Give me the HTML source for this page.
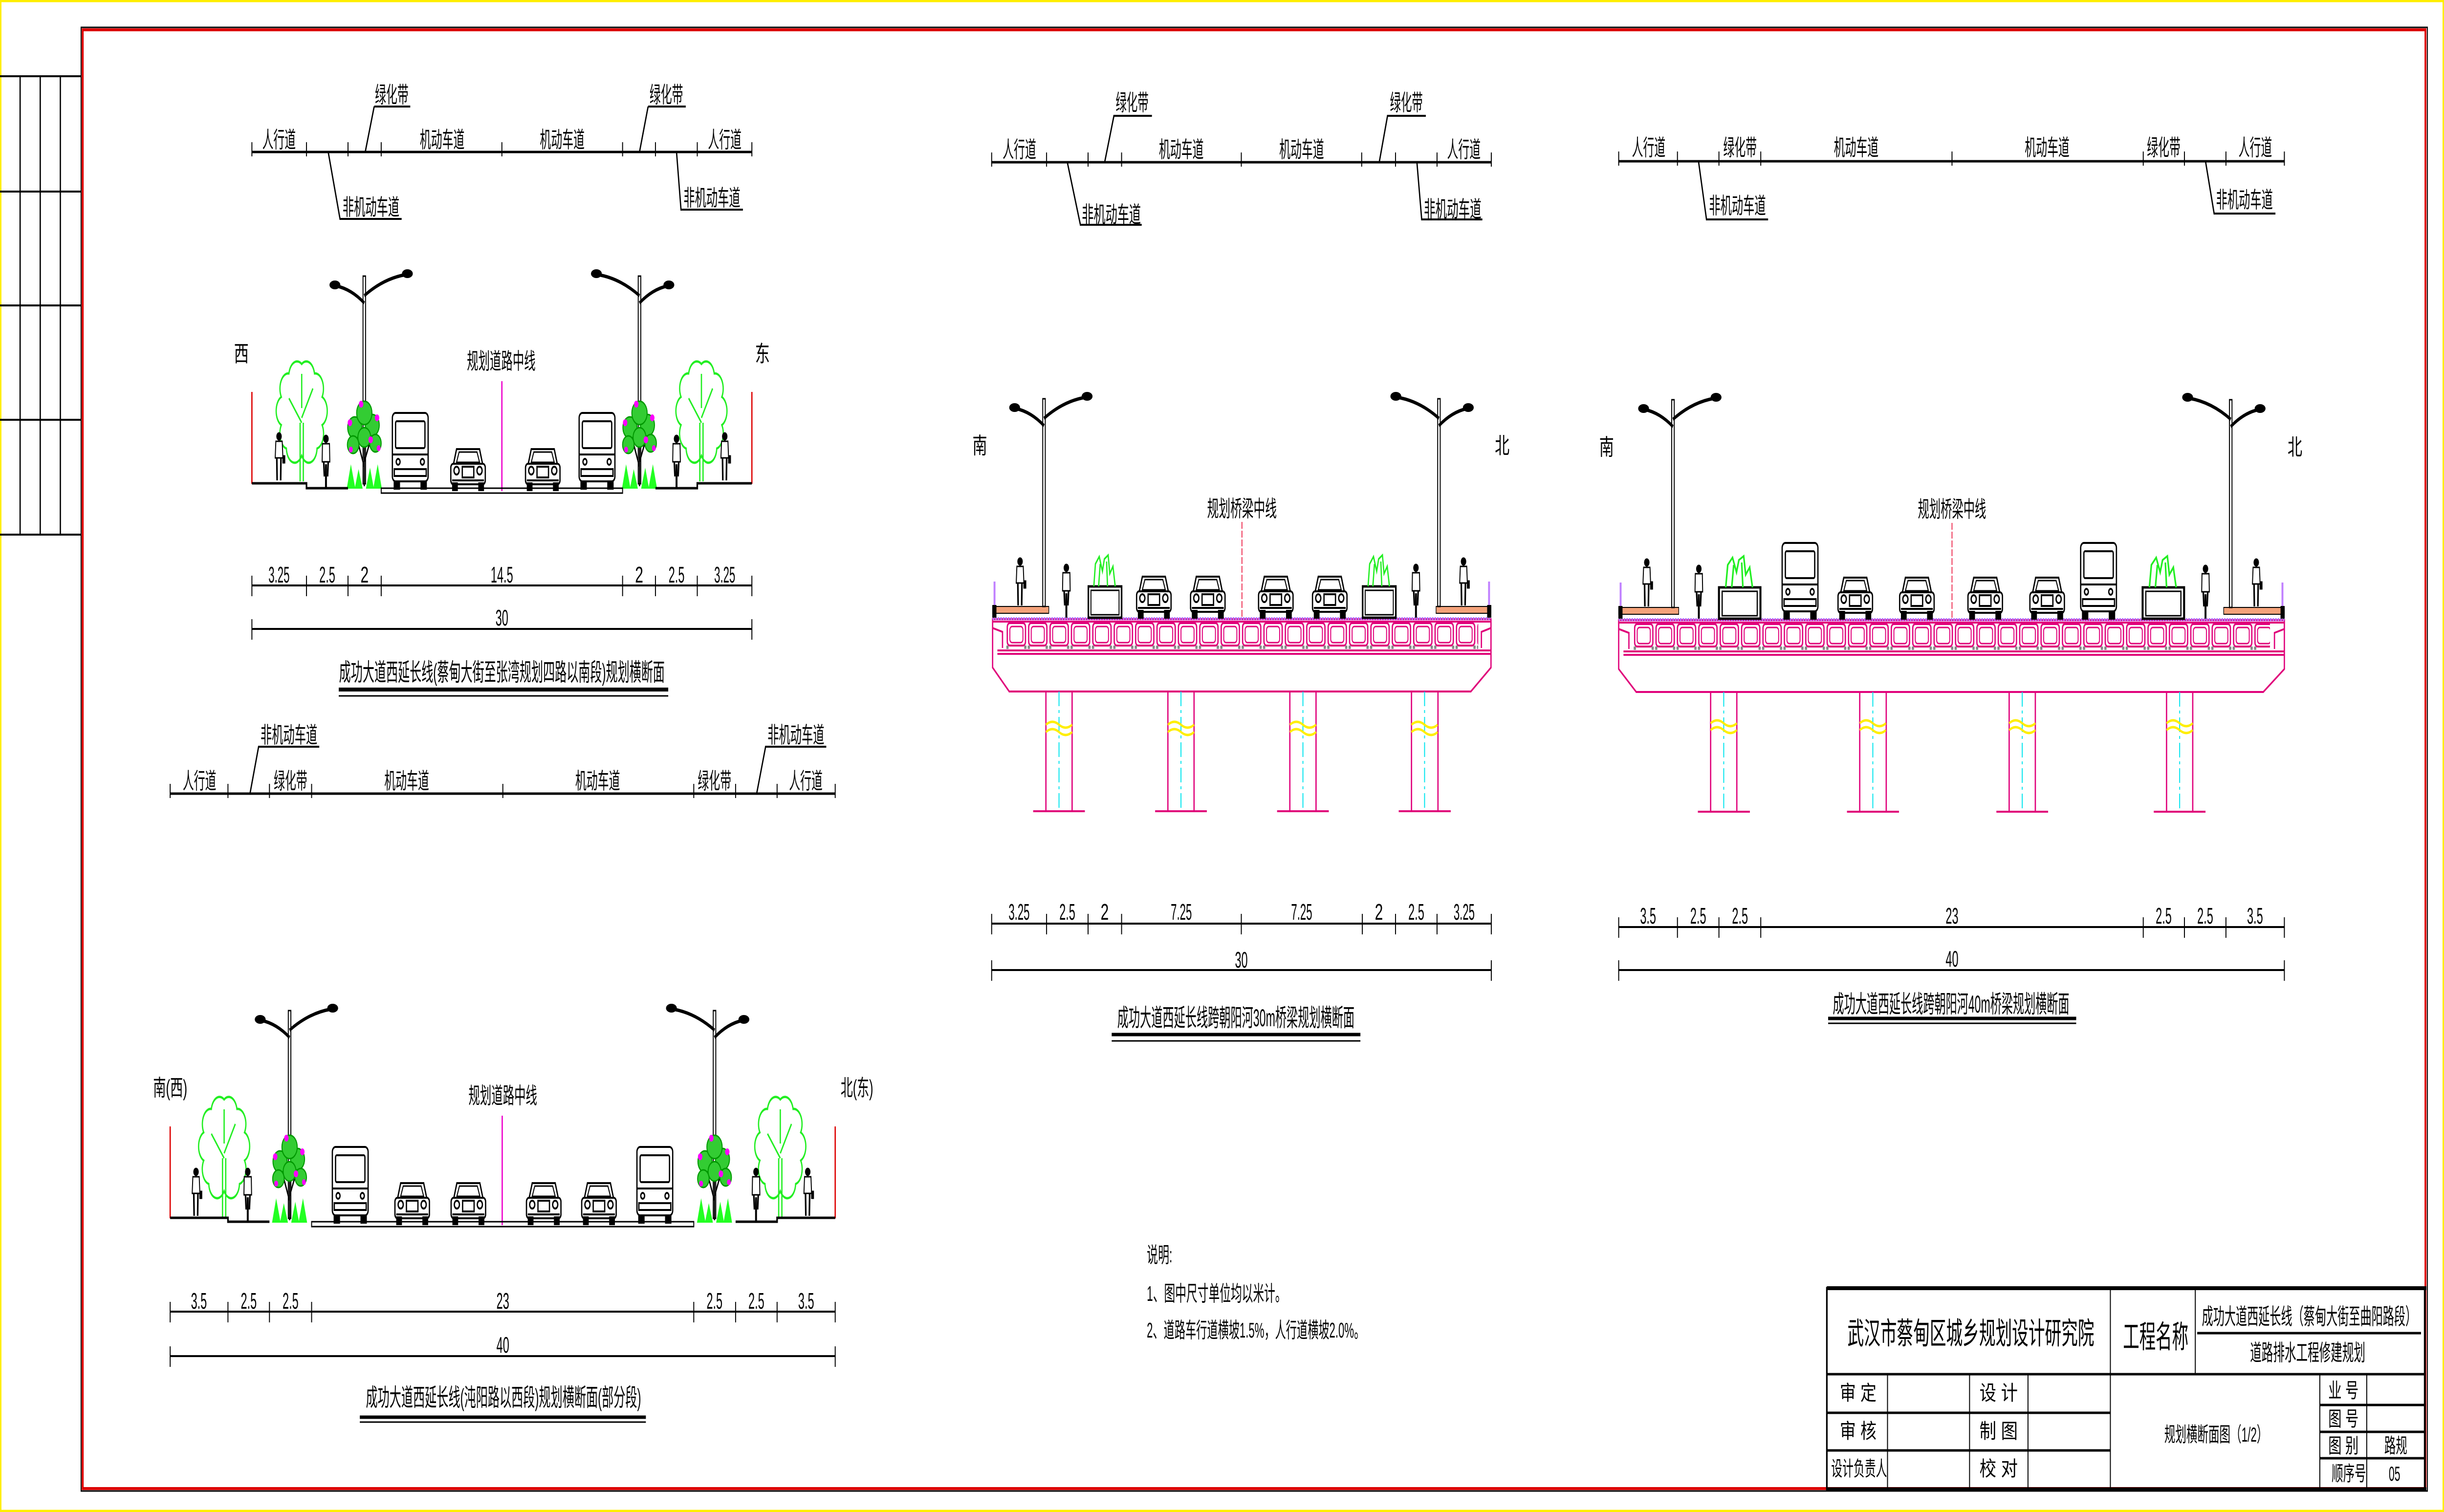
<!DOCTYPE html>
<html><head><meta charset="utf-8"><style>
html,body{margin:0;padding:0;background:#fff;overflow:hidden;width:100%;height:100%}
svg{display:block;position:fixed;left:0;top:0;width:100vw;height:100vh}
text{font-family:"Liberation Sans","Noto Sans CJK SC",sans-serif;fill:#000}
</style></head><body>
<svg xmlns="http://www.w3.org/2000/svg" viewBox="0 0 7655 3094" preserveAspectRatio="none">
<defs>
<pattern id="cells3" patternUnits="userSpaceOnUse" x="3150" y="1273" width="67" height="56">
<rect x="5" y="2" width="57" height="46" rx="8" fill="none" stroke="#e0007a" stroke-width="4"/>
<rect x="13" y="9" width="41" height="33" rx="7" fill="none" stroke="#e0007a" stroke-width="3"/>
<rect x="2" y="48" width="7" height="7" fill="#888"/><rect x="58" y="48" width="7" height="7" fill="#888"/>
</pattern>
<pattern id="cells4" patternUnits="userSpaceOnUse" x="5115" y="1275" width="67" height="56">
<rect x="5" y="2" width="57" height="46" rx="8" fill="none" stroke="#e0007a" stroke-width="4"/>
<rect x="13" y="9" width="41" height="33" rx="7" fill="none" stroke="#e0007a" stroke-width="3"/>
<rect x="2" y="48" width="7" height="7" fill="#888"/><rect x="58" y="48" width="7" height="7" fill="#888"/>
</pattern>
<g id="car" fill="#fff" stroke="#000" stroke-width="4">
<path d="M-36,-84 H36 L46,-52 H-46 Z"/>
<path d="M-28,-78 H28 L36,-57 H-36 Z" fill="none" stroke-width="3"/>
<rect x="-54" y="-54" width="108" height="42" rx="8"/>
<circle cx="-36" cy="-40" r="8"/><circle cx="36" cy="-40" r="8"/>
<rect x="-18" y="-48" width="36" height="22" fill="none"/>
<line x1="-50" y1="-20" x2="50" y2="-20"/>
<rect x="-48" y="-14" width="14" height="14" fill="#000"/><rect x="34" y="-14" width="14" height="14" fill="#000"/>
</g>
<g id="bus" fill="#fff" stroke="#000" stroke-width="4">
<rect x="-56" y="-155" width="112" height="140" rx="10"/>
<rect x="-46" y="-138" width="92" height="55" rx="4"/>
<line x1="-56" y1="-70" x2="56" y2="-70"/>
<rect x="-50" y="-40" width="100" height="14"/>
<circle cx="-38" cy="-55" r="6"/><circle cx="38" cy="-55" r="6"/>
<rect x="-50" y="-15" width="16" height="15" fill="#000"/><rect x="34" y="-15" width="16" height="15" fill="#000"/>
</g>
<g id="ped" stroke="#000" stroke-width="3" fill="#fff">
<circle cx="0" cy="-92" r="7" fill="#000"/>
<path d="M-10,-82 H10 L12,-48 H-12 Z"/>
<path d="M-7,-48 L-6,-2 M6,-48 L5,-2" stroke-width="5"/>
<rect x="12" y="-52" width="6" height="14" fill="#000"/>
</g>
<g id="cyc" stroke="#000" stroke-width="3" fill="#fff">
<circle cx="0" cy="-102" r="7" fill="#000"/>
<path d="M-11,-92 H11 L12,-55 H-12 Z"/>
<path d="M-7,-55 L-5,-25 M7,-55 L5,-25" stroke-width="5"/>
<path d="M0,-50 V0" stroke-width="6"/>
</g>
<g id="tree" fill="none" stroke="#22ee22" stroke-width="4">
<path transform="scale(1,1.2)" d="M-48,-56 A26,26 0 0 1 -64,-96 A26,26 0 0 1 -64,-144 A26,26 0 0 1 -40,-184 A26,26 0 0 1 0,-200 A26,26 0 0 1 40,-184 A26,26 0 0 1 64,-144 A26,26 0 0 1 64,-96 A26,26 0 0 1 48,-56 A26,26 0 0 1 0,-44 A26,26 0 0 1 -48,-56 Z"/>
<path d="M-5,0 V-120 M5,0 V-120 M0,-120 L-40,-170 M0,-130 L35,-190 M0,-150 V-220"/>
</g>
<g id="flower">
<path d="M0,0 V-110 M0,-40 L-20,-90 M0,-50 L22,-100" stroke="#000" stroke-width="4" fill="none"/>
<g fill="#33cc33" stroke="#009900" stroke-width="3">
<circle cx="-30" cy="-120" r="22"/><circle cx="25" cy="-125" r="22"/><circle cx="0" cy="-150" r="24"/>
<circle cx="-35" cy="-85" r="18"/><circle cx="35" cy="-88" r="18"/><circle cx="0" cy="-100" r="20"/>
</g>
<g fill="#ff00ff"><circle cx="-45" cy="-130" r="7"/><circle cx="40" cy="-140" r="7"/><circle cx="-10" cy="-168" r="7"/><circle cx="20" cy="-95" r="7"/><circle cx="-42" cy="-75" r="6"/><circle cx="45" cy="-78" r="6"/></g>
<g fill="#22ff22"><polygon points="-55,5 -42,-45 -28,5"/><polygon points="-30,5 -18,-35 -5,5"/><polygon points="5,5 18,-38 30,5"/><polygon points="28,5 42,-45 55,5"/></g>
</g>
<g id="planter">
<rect x="-52" y="-64" width="104" height="64" fill="#fff" stroke="#000" stroke-width="5"/>
<rect x="-44" y="-56" width="88" height="50" fill="none" stroke="#000" stroke-width="3"/>
<path d="M-35,-64 L-30,-110 L-18,-125 L-8,-95 L-2,-120 L10,-128 L15,-90 L25,-105 L32,-64 M-20,-64 L-15,-110 M8,-64 L5,-115" fill="none" stroke="#22ee22" stroke-width="4"/>
</g>
<g id="lamp">
<rect x="-4" y="-425" width="8" height="425" fill="#fff" stroke="#000" stroke-width="3"/>
<path d="M0,-385 Q60,-420 130,-428" stroke="#000" stroke-width="7" fill="none"/>
<path d="M0,-370 Q-40,-398 -88,-405" stroke="#000" stroke-width="7" fill="none"/>
<ellipse cx="135" cy="-430" rx="17" ry="9" fill="#000"/><ellipse cx="-92" cy="-407" rx="17" ry="9" fill="#000"/>
</g>
</defs>

<rect x="2" y="2" width="7651" height="3090" fill="none" stroke="#ffee00" stroke-width="5"/>
<rect x="254" y="56" width="7349" height="2995" fill="none" stroke="#000" stroke-width="3"/>
<rect x="259" y="61" width="7338" height="2985" fill="none" stroke="#dd0000" stroke-width="6"/>
<g stroke="#000" stroke-width="4">
<line x1="0" y1="156" x2="255" y2="156"/><line x1="0" y1="392" x2="255" y2="392"/><line x1="0" y1="625" x2="255" y2="625"/><line x1="0" y1="859" x2="255" y2="859"/><line x1="0" y1="1094" x2="255" y2="1094"/>
<line x1="63" y1="156" x2="63" y2="1094"/><line x1="126" y1="156" x2="126" y2="1094"/><line x1="189" y1="156" x2="189" y2="1094"/>
</g>

<!-- SECTION 1 -->
<g stroke="#000" stroke-width="5" fill="none">
<line x1="789" y1="311" x2="2355" y2="311"/>
<path d="M789,291 V320 M960,291 V320 M1090,291 V320 M1194,291 V320 M1572,291 V320 M1950,291 V320 M2053,291 V320 M2184,291 V320 M2355,291 V320" stroke-width="3"/>
<path d="M1172,218 L1144,311 M1172,218 H1285 M2030,218 L2003,311 M2030,218 H2148 M1028,311 L1065,448 H1258 M2119,311 L2133,429 H2327" stroke-width="4"/>
</g>
<g font-size="46">
<text x="874" y="302" text-anchor="middle" textLength="105" lengthAdjust="spacingAndGlyphs">人行道</text>
<text x="1385" y="302" text-anchor="middle" textLength="140" lengthAdjust="spacingAndGlyphs">机动车道</text>
<text x="1761" y="302" text-anchor="middle" textLength="140" lengthAdjust="spacingAndGlyphs">机动车道</text>
<text x="2270" y="302" text-anchor="middle" textLength="105" lengthAdjust="spacingAndGlyphs">人行道</text>
<text x="1227" y="210" text-anchor="middle" textLength="105" lengthAdjust="spacingAndGlyphs">绿化带</text>
<text x="2087" y="210" text-anchor="middle" textLength="105" lengthAdjust="spacingAndGlyphs">绿化带</text>
<text x="1162" y="440" text-anchor="middle" textLength="178" lengthAdjust="spacingAndGlyphs">非机动车道</text>
<text x="2230" y="421" text-anchor="middle" textLength="178" lengthAdjust="spacingAndGlyphs">非机动车道</text>
<text x="756" y="740" text-anchor="middle">西</text>
<text x="2388" y="740" text-anchor="middle">东</text>
<text x="1570" y="755" text-anchor="middle" textLength="215" lengthAdjust="spacingAndGlyphs">规划道路中线</text>
</g>
<line x1="1572" y1="780" x2="1572" y2="1005" stroke="#ee00cc" stroke-width="4"/>
<g stroke="#dd0000" stroke-width="4"><line x1="789" y1="802" x2="789" y2="990"/><line x1="2355" y1="802" x2="2355" y2="990"/></g>
<use href="#tree" transform="translate(945,985)"/><use href="#tree" transform="translate(2197,985)"/>
<use href="#lamp" transform="translate(1141,990)"/><use href="#lamp" transform="translate(2003,990) scale(-1,1)"/>
<use href="#flower" transform="translate(1141,995)"/><use href="#flower" transform="translate(2003,995)"/>
<use href="#ped" transform="translate(874,985)"/><use href="#cyc" transform="translate(1021,1000)"/>
<use href="#cyc" transform="translate(2119,1000)"/><use href="#ped" transform="translate(2270,985)"/>
<use href="#bus" transform="translate(1285,1000)"/><use href="#car" transform="translate(1466,1003)"/>
<use href="#car" transform="translate(1700,1003)"/><use href="#bus" transform="translate(1870,1000)"/>
<g stroke="#000" stroke-width="5" fill="none">
<path d="M789,989 H960 V999 H1090 M2355,989 H2184 V999 H2053"/>
<rect x="1194" y="999" width="756" height="10" stroke-width="3"/>
</g>
<g stroke="#000" stroke-width="4" fill="none">
<line x1="789" y1="1198" x2="2355" y2="1198"/>
<path d="M789,1178 V1220 M960,1178 V1220 M1090,1178 V1220 M1194,1178 V1220 M1950,1178 V1220 M2053,1178 V1220 M2184,1178 V1220 M2355,1178 V1220" stroke-width="3"/>
<line x1="789" y1="1287" x2="2355" y2="1287"/>
<path d="M789,1267 V1309 M2355,1267 V1309" stroke-width="3"/>
</g>
<g font-size="46" text-anchor="middle">
<text x="874" y="1192" textLength="66" lengthAdjust="spacingAndGlyphs">3.25</text>
<text x="1025" y="1192" textLength="50" lengthAdjust="spacingAndGlyphs">2.5</text>
<text x="1142" y="1192">2</text>
<text x="1572" y="1192" textLength="70" lengthAdjust="spacingAndGlyphs">14.5</text>
<text x="2002" y="1192">2</text>
<text x="2119" y="1192" textLength="50" lengthAdjust="spacingAndGlyphs">2.5</text>
<text x="2270" y="1192" textLength="66" lengthAdjust="spacingAndGlyphs">3.25</text>
<text x="1572" y="1280" textLength="40" lengthAdjust="spacingAndGlyphs">30</text>
</g>
<text x="1572" y="1393" font-size="50" text-anchor="middle" textLength="1020" lengthAdjust="spacingAndGlyphs">成功大道西延长线(蔡甸大街至张湾规划四路以南段)规划横断面</text>
<line x1="1061" y1="1411" x2="2093" y2="1411" stroke="#000" stroke-width="8"/>
<line x1="1061" y1="1424" x2="2093" y2="1424" stroke="#000" stroke-width="3"/>

<!-- SECTION 2 -->
<g stroke="#000" stroke-width="5" fill="none">
<line x1="533" y1="1624" x2="2616" y2="1624"/>
<path d="M533,1604 V1633 M714,1604 V1633 M844,1604 V1633 M976,1604 V1633 M1575,1604 V1633 M2173,1604 V1633 M2304,1604 V1633 M2434,1604 V1633 M2616,1604 V1633" stroke-width="3"/>
<path d="M783,1624 L810,1528 H1000 M2370,1624 L2398,1528 H2588" stroke-width="4"/>
</g>
<g font-size="46" text-anchor="middle">
<text x="625" y="1614" textLength="105" lengthAdjust="spacingAndGlyphs">人行道</text>
<text x="910" y="1614" textLength="105" lengthAdjust="spacingAndGlyphs">绿化带</text>
<text x="1274" y="1614" textLength="140" lengthAdjust="spacingAndGlyphs">机动车道</text>
<text x="1872" y="1614" textLength="140" lengthAdjust="spacingAndGlyphs">机动车道</text>
<text x="2238" y="1614" textLength="105" lengthAdjust="spacingAndGlyphs">绿化带</text>
<text x="2524" y="1614" textLength="105" lengthAdjust="spacingAndGlyphs">人行道</text>
<text x="905" y="1520" textLength="178" lengthAdjust="spacingAndGlyphs">非机动车道</text>
<text x="2493" y="1520" textLength="178" lengthAdjust="spacingAndGlyphs">非机动车道</text>
<text x="533" y="2242" textLength="107" lengthAdjust="spacingAndGlyphs">南(西)</text>
<text x="2684" y="2242" textLength="102" lengthAdjust="spacingAndGlyphs">北(东)</text>
<text x="1575" y="2258" textLength="215" lengthAdjust="spacingAndGlyphs">规划道路中线</text>
</g>
<line x1="1573" y1="2283" x2="1573" y2="2507" stroke="#ee00cc" stroke-width="4"/>
<g stroke="#dd0000" stroke-width="4"><line x1="533" y1="2305" x2="533" y2="2493"/><line x1="2616" y1="2305" x2="2616" y2="2493"/></g>
<use href="#tree" transform="translate(702,2490)"/><use href="#tree" transform="translate(2444,2490)"/>
<use href="#lamp" transform="translate(907,2493)"/><use href="#lamp" transform="translate(2238,2493) scale(-1,1)"/>
<use href="#flower" transform="translate(907,2497)"/><use href="#flower" transform="translate(2238,2497)"/>
<use href="#ped" transform="translate(614,2490)"/><use href="#cyc" transform="translate(776,2500)"/>
<use href="#cyc" transform="translate(2368,2500)"/><use href="#ped" transform="translate(2530,2490)"/>
<use href="#bus" transform="translate(1097,2502)"/><use href="#car" transform="translate(1291,2505)"/>
<use href="#car" transform="translate(1467,2505)"/><use href="#car" transform="translate(1703,2505)"/>
<use href="#car" transform="translate(1876,2505)"/><use href="#bus" transform="translate(2051,2502)"/>
<g stroke="#000" stroke-width="5" fill="none">
<path d="M533,2492 H714 V2500 H844 M2616,2492 H2434 V2500 H2304"/>
<rect x="976" y="2500" width="1197" height="10" stroke-width="3"/>
</g>
<g stroke="#000" stroke-width="4" fill="none">
<line x1="533" y1="2684" x2="2616" y2="2684"/>
<path d="M533,2664 V2706 M714,2664 V2706 M844,2664 V2706 M976,2664 V2706 M2173,2664 V2706 M2304,2664 V2706 M2434,2664 V2706 M2616,2664 V2706" stroke-width="3"/>
<line x1="533" y1="2775" x2="2616" y2="2775"/>
<path d="M533,2755 V2797 M2616,2755 V2797" stroke-width="3"/>
</g>
<g font-size="46" text-anchor="middle">
<text x="623" y="2678" textLength="50" lengthAdjust="spacingAndGlyphs">3.5</text>
<text x="779" y="2678" textLength="50" lengthAdjust="spacingAndGlyphs">2.5</text>
<text x="910" y="2678" textLength="50" lengthAdjust="spacingAndGlyphs">2.5</text>
<text x="1575" y="2678" textLength="40" lengthAdjust="spacingAndGlyphs">23</text>
<text x="2238" y="2678" textLength="50" lengthAdjust="spacingAndGlyphs">2.5</text>
<text x="2369" y="2678" textLength="50" lengthAdjust="spacingAndGlyphs">2.5</text>
<text x="2525" y="2678" textLength="50" lengthAdjust="spacingAndGlyphs">3.5</text>
<text x="1575" y="2768" textLength="40" lengthAdjust="spacingAndGlyphs">40</text>
</g>
<text x="1577" y="2877" font-size="50" text-anchor="middle" textLength="862" lengthAdjust="spacingAndGlyphs">成功大道西延长线(沌阳路以西段)规划横断面(部分段)</text>
<line x1="1127" y1="2900" x2="2023" y2="2900" stroke="#000" stroke-width="7"/>
<line x1="1127" y1="2910" x2="2023" y2="2910" stroke="#000" stroke-width="3"/>

<!-- SECTION 3 -->
<g stroke="#000" stroke-width="5" fill="none">
<line x1="3106" y1="332" x2="4671" y2="332"/>
<path d="M3106,312 V341 M3278,312 V341 M3408,312 V341 M3513,312 V341 M3888,312 V341 M4265,312 V341 M4371,312 V341 M4501,312 V341 M4671,312 V341" stroke-width="3"/>
<path d="M3460,332 L3489,237 H3608 M4320,332 L4346,237 H4466 M3343,332 L3384,460 H3576 M4438,332 L4453,449 H4643" stroke-width="4"/>
</g>
<g font-size="46" text-anchor="middle">
<text x="3193" y="322" textLength="105" lengthAdjust="spacingAndGlyphs">人行道</text>
<text x="3700" y="322" textLength="140" lengthAdjust="spacingAndGlyphs">机动车道</text>
<text x="4077" y="322" textLength="140" lengthAdjust="spacingAndGlyphs">机动车道</text>
<text x="4585" y="322" textLength="105" lengthAdjust="spacingAndGlyphs">人行道</text>
<text x="3546" y="226" textLength="103" lengthAdjust="spacingAndGlyphs">绿化带</text>
<text x="4405" y="226" textLength="103" lengthAdjust="spacingAndGlyphs">绿化带</text>
<text x="3481" y="455" textLength="185" lengthAdjust="spacingAndGlyphs">非机动车道</text>
<text x="4550" y="444" textLength="180" lengthAdjust="spacingAndGlyphs">非机动车道</text>
<text x="3069" y="928">南</text>
<text x="4705" y="928">北</text>
<text x="3890" y="1057" textLength="218" lengthAdjust="spacingAndGlyphs">规划桥梁中线</text>
</g>
<line x1="3890" y1="1068" x2="3890" y2="1262" stroke="#ee3355" stroke-width="3" stroke-dasharray="14 4"/>
<rect x="3150" y="1273" width="1480" height="56" fill="url(#cells3)"/>
<g stroke="#e0007a" stroke-width="4" fill="none">
<path d="M3109,1267 V1366 L3161,1415 H4607 L4670,1366 V1267 Z"/>
<line x1="3109" y1="1272" x2="4670" y2="1272"/>
<line x1="3124" y1="1331" x2="4670" y2="1331"/>
<line x1="3124" y1="1338" x2="4670" y2="1338"/>
<path d="M3109,1285 L3140,1293 V1326 M4670,1285 L4640,1293 V1326"/>
</g>
<line x1="3109" y1="1266" x2="4670" y2="1266" stroke="#b070ff" stroke-width="6" stroke-dasharray="5 3"/>
<rect x="3109" y="1241" width="176" height="14" fill="#f4a27a" stroke="#000" stroke-width="2"/>
<rect x="4498" y="1241" width="172" height="14" fill="#f4a27a" stroke="#000" stroke-width="2"/>
<rect x="3108" y="1238" width="13" height="26" fill="#000"/><rect x="4658" y="1238" width="13" height="26" fill="#000"/>
<path d="M3115,1190 V1238 M4664,1190 V1238" stroke="#c080ff" stroke-width="6"/>
<g stroke="#e0007a" stroke-width="4">
<path d="M3276,1415 V1660 M3358,1415 V1660 M3658,1415 V1660 M3740,1415 V1660 M4040,1415 V1660 M4122,1415 V1660 M4421,1415 V1660 M4504,1415 V1660"/>
<path d="M3236,1660 H3398 M3618,1660 H3780 M4000,1660 H4162 M4381,1660 H4544"/>
</g>
<g stroke="#00e5ee" stroke-width="3" stroke-dasharray="30 8 6 8"><path d="M3317,1415 V1660 M3699,1415 V1660 M4081,1415 V1660 M4462,1415 V1660"/></g>
<g stroke="#ffee00" stroke-width="5" fill="none">
<path d="M3276,1483 q20,-12 41,0 t41,0 M3276,1498 q20,-12 41,0 t41,0 M3658,1483 q20,-12 41,0 t41,0 M3658,1498 q20,-12 41,0 t41,0 M4040,1483 q20,-12 41,0 t41,0 M4040,1498 q20,-12 41,0 t41,0 M4421,1483 q20,-12 41,0 t41,0 M4421,1498 q20,-12 41,0 t41,0"/>
</g>
<use href="#lamp" transform="translate(3270,1241)"/><use href="#lamp" transform="translate(4507,1241) scale(-1,1)"/>
<use href="#ped" transform="translate(3195,1241)"/><use href="#cyc" transform="translate(3340,1264)"/>
<use href="#cyc" transform="translate(4435,1264)"/><use href="#ped" transform="translate(4584,1241)"/>
<use href="#planter" transform="translate(3461,1264)"/><use href="#planter" transform="translate(4320,1264)"/>
<use href="#car" transform="translate(3614,1264)"/><use href="#car" transform="translate(3783,1264)"/>
<use href="#car" transform="translate(3996,1264)"/><use href="#car" transform="translate(4165,1264)"/>
<g stroke="#000" stroke-width="4" fill="none">
<line x1="3106" y1="1890" x2="4671" y2="1890"/>
<path d="M3106,1870 V1912 M3278,1870 V1912 M3408,1870 V1912 M3513,1870 V1912 M3888,1870 V1912 M4267,1870 V1912 M4371,1870 V1912 M4501,1870 V1912 M4671,1870 V1912" stroke-width="3"/>
<line x1="3106" y1="1985" x2="4671" y2="1985"/>
<path d="M3106,1965 V2007 M4671,1965 V2007" stroke-width="3"/>
</g>
<g font-size="46" text-anchor="middle">
<text x="3192" y="1882" textLength="66" lengthAdjust="spacingAndGlyphs">3.25</text>
<text x="3343" y="1882" textLength="50" lengthAdjust="spacingAndGlyphs">2.5</text>
<text x="3460" y="1882">2</text>
<text x="3700" y="1882" textLength="66" lengthAdjust="spacingAndGlyphs">7.25</text>
<text x="4077" y="1882" textLength="66" lengthAdjust="spacingAndGlyphs">7.25</text>
<text x="4319" y="1882">2</text>
<text x="4436" y="1882" textLength="50" lengthAdjust="spacingAndGlyphs">2.5</text>
<text x="4586" y="1882" textLength="66" lengthAdjust="spacingAndGlyphs">3.25</text>
<text x="3888" y="1980" textLength="40" lengthAdjust="spacingAndGlyphs">30</text>
</g>
<text x="3871" y="2100" font-size="50" text-anchor="middle" textLength="743" lengthAdjust="spacingAndGlyphs">成功大道西延长线跨朝阳河30m桥梁规划横断面</text>
<line x1="3482" y1="2117" x2="4261" y2="2117" stroke="#000" stroke-width="7"/>
<line x1="3482" y1="2130" x2="4261" y2="2130" stroke="#000" stroke-width="3"/>

<!-- SECTION 4 -->
<g stroke="#000" stroke-width="5" fill="none">
<line x1="5070" y1="330" x2="7155" y2="330"/>
<path d="M5070,310 V339 M5254,310 V339 M5384,310 V339 M5515,310 V339 M6114,310 V339 M6713,310 V339 M6842,310 V339 M6972,310 V339 M7155,310 V339" stroke-width="3"/>
<path d="M5320,330 L5345,449 H5538 M6908,330 L6935,437 H7127" stroke-width="4"/>
</g>
<g font-size="46" text-anchor="middle">
<text x="5164" y="318" textLength="105" lengthAdjust="spacingAndGlyphs">人行道</text>
<text x="5450" y="318" textLength="105" lengthAdjust="spacingAndGlyphs">绿化带</text>
<text x="5814" y="318" textLength="140" lengthAdjust="spacingAndGlyphs">机动车道</text>
<text x="6412" y="318" textLength="140" lengthAdjust="spacingAndGlyphs">机动车道</text>
<text x="6777" y="318" textLength="105" lengthAdjust="spacingAndGlyphs">绿化带</text>
<text x="7064" y="318" textLength="105" lengthAdjust="spacingAndGlyphs">人行道</text>
<text x="5442" y="437" textLength="178" lengthAdjust="spacingAndGlyphs">非机动车道</text>
<text x="7030" y="425" textLength="178" lengthAdjust="spacingAndGlyphs">非机动车道</text>
<text x="5032" y="931">南</text>
<text x="7188" y="931">北</text>
<text x="6114" y="1058" textLength="214" lengthAdjust="spacingAndGlyphs">规划桥梁中线</text>
</g>
<line x1="6114" y1="1070" x2="6114" y2="1264" stroke="#ee3355" stroke-width="3" stroke-dasharray="14 4"/>
<rect x="5115" y="1275" width="1995" height="56" fill="url(#cells4)"/>
<g stroke="#e0007a" stroke-width="4" fill="none">
<path d="M5070,1269 V1369 L5125,1416 H7089 L7155,1369 V1269 Z"/>
<line x1="5070" y1="1274" x2="7155" y2="1274"/>
<line x1="5085" y1="1333" x2="7155" y2="1333"/>
<line x1="5085" y1="1340" x2="7155" y2="1340"/>
<path d="M5070,1287 L5102,1295 V1328 M7155,1287 L7124,1295 V1328"/>
</g>
<line x1="5070" y1="1268" x2="7155" y2="1268" stroke="#b070ff" stroke-width="6" stroke-dasharray="5 3"/>
<rect x="5070" y="1243" width="188" height="14" fill="#f4a27a" stroke="#000" stroke-width="2"/>
<rect x="6965" y="1243" width="190" height="14" fill="#f4a27a" stroke="#000" stroke-width="2"/>
<rect x="5069" y="1240" width="13" height="26" fill="#000"/><rect x="7143" y="1240" width="13" height="26" fill="#000"/>
<path d="M5076,1192 V1240 M7149,1192 V1240" stroke="#c080ff" stroke-width="6"/>
<g stroke="#e0007a" stroke-width="4">
<path d="M5358,1416 V1661 M5440,1416 V1661 M5825,1416 V1661 M5908,1416 V1661 M6293,1416 V1661 M6375,1416 V1661 M6786,1416 V1661 M6868,1416 V1661"/>
<path d="M5318,1661 H5481 M5785,1661 H5948 M6253,1661 H6415 M6746,1661 H6908"/>
</g>
<g stroke="#00e5ee" stroke-width="3" stroke-dasharray="30 8 6 8"><path d="M5399,1416 V1661 M5866,1416 V1661 M6334,1416 V1661 M6827,1416 V1661"/></g>
<g stroke="#ffee00" stroke-width="5" fill="none">
<path d="M5358,1480 q20,-12 41,0 t41,0 M5358,1494 q20,-12 41,0 t41,0 M5825,1480 q20,-12 41,0 t41,0 M5825,1494 q20,-12 41,0 t41,0 M6293,1480 q20,-12 41,0 t41,0 M6293,1494 q20,-12 41,0 t41,0 M6786,1480 q20,-12 41,0 t41,0 M6786,1494 q20,-12 41,0 t41,0"/>
</g>
<use href="#lamp" transform="translate(5240,1243)"/><use href="#lamp" transform="translate(6987,1243) scale(-1,1)"/>
<use href="#ped" transform="translate(5158,1243)"/><use href="#cyc" transform="translate(5321,1266)"/>
<use href="#cyc" transform="translate(6908,1266)"/><use href="#ped" transform="translate(7067,1243)"/>
<use href="#planter" transform="translate(5449,1266) scale(1.25,1)"/><use href="#planter" transform="translate(6776,1266) scale(1.25,1)"/>
<use href="#bus" transform="translate(5638,1266)"/><use href="#car" transform="translate(5811,1266)"/>
<use href="#car" transform="translate(6004,1266)"/><use href="#car" transform="translate(6218,1266)"/>
<use href="#car" transform="translate(6412,1266)"/><use href="#bus" transform="translate(6573,1266)"/>
<g stroke="#000" stroke-width="4" fill="none">
<line x1="5070" y1="1897" x2="7155" y2="1897"/>
<path d="M5070,1877 V1919 M5254,1877 V1919 M5384,1877 V1919 M5515,1877 V1919 M6713,1877 V1919 M6842,1877 V1919 M6972,1877 V1919 M7155,1877 V1919" stroke-width="3"/>
<line x1="5070" y1="1985" x2="7155" y2="1985"/>
<path d="M5070,1965 V2007 M7155,1965 V2007" stroke-width="3"/>
</g>
<g font-size="46" text-anchor="middle">
<text x="5162" y="1890" textLength="50" lengthAdjust="spacingAndGlyphs">3.5</text>
<text x="5319" y="1890" textLength="50" lengthAdjust="spacingAndGlyphs">2.5</text>
<text x="5450" y="1890" textLength="50" lengthAdjust="spacingAndGlyphs">2.5</text>
<text x="6114" y="1890" textLength="40" lengthAdjust="spacingAndGlyphs">23</text>
<text x="6777" y="1890" textLength="50" lengthAdjust="spacingAndGlyphs">2.5</text>
<text x="6907" y="1890" textLength="50" lengthAdjust="spacingAndGlyphs">2.5</text>
<text x="7063" y="1890" textLength="50" lengthAdjust="spacingAndGlyphs">3.5</text>
<text x="6114" y="1978" textLength="40" lengthAdjust="spacingAndGlyphs">40</text>
</g>
<text x="6111" y="2072" font-size="50" text-anchor="middle" textLength="741" lengthAdjust="spacingAndGlyphs">成功大道西延长线跨朝阳河40m桥梁规划横断面</text>
<line x1="5726" y1="2084" x2="6503" y2="2084" stroke="#000" stroke-width="7"/>
<line x1="5726" y1="2094" x2="6503" y2="2094" stroke="#000" stroke-width="3"/>

<!-- notes -->
<g font-size="44">
<text x="3592" y="2583" textLength="80" lengthAdjust="spacingAndGlyphs">说明:</text>
<text x="3592" y="2662" textLength="437" lengthAdjust="spacingAndGlyphs">1、图中尺寸单位均以米计。</text>
<text x="3592" y="2737" textLength="683" lengthAdjust="spacingAndGlyphs">2、道路车行道横坡1.5%，人行道横坡2.0%。</text>
</g>

<!-- TITLE BLOCK -->
<g stroke="#000" fill="none">
<rect x="5722" y="2636" width="1873" height="412" stroke-width="5"/>
<line x1="5722" y1="2636" x2="7600" y2="2636" stroke-width="8"/>
<line x1="5722" y1="3048" x2="7600" y2="3048" stroke-width="9"/>
<line x1="7595" y1="2636" x2="7595" y2="3048" stroke-width="6"/>
<line x1="6610" y1="2636" x2="6610" y2="3048" stroke-width="3"/>
<line x1="6876" y1="2636" x2="6876" y2="2812" stroke-width="3"/>
<line x1="5722" y1="2812" x2="7595" y2="2812" stroke-width="5"/>
<line x1="6882" y1="2728" x2="7583" y2="2728" stroke-width="5"/>
<line x1="5912" y1="2812" x2="5912" y2="3048" stroke-width="3"/>
<line x1="6169" y1="2812" x2="6169" y2="3048" stroke-width="3"/>
<line x1="6352" y1="2812" x2="6352" y2="3048" stroke-width="3"/>
<line x1="5722" y1="2891" x2="6610" y2="2891" stroke-width="5"/>
<line x1="5722" y1="2968" x2="6610" y2="2968" stroke-width="5"/>
<line x1="7266" y1="2812" x2="7266" y2="3048" stroke-width="3"/>
<line x1="7413" y1="2812" x2="7413" y2="3048" stroke-width="3"/>
<line x1="7266" y1="2875" x2="7595" y2="2875" stroke-width="5"/>
<line x1="7266" y1="2930" x2="7595" y2="2930" stroke-width="5"/>
<line x1="7266" y1="2984" x2="7595" y2="2984" stroke-width="5"/>
</g>
<g text-anchor="middle">
<text x="6173" y="2750" font-size="62" textLength="773" lengthAdjust="spacingAndGlyphs">武汉市蔡甸区城乡规划设计研究院</text>
<text x="6752" y="2758" font-size="64" textLength="205" lengthAdjust="spacingAndGlyphs">工程名称</text>
<text x="7233" y="2710" font-size="46" textLength="673" lengthAdjust="spacingAndGlyphs">成功大道西延长线（蔡甸大街至曲阳路段）</text>
<text x="7228" y="2784" font-size="46" textLength="361" lengthAdjust="spacingAndGlyphs">道路排水工程修建规划</text>
<g font-size="42">
<text x="5820" y="2865" textLength="115" lengthAdjust="spacingAndGlyphs">审 定</text>
<text x="5820" y="2943" textLength="115" lengthAdjust="spacingAndGlyphs">审 核</text>
<text x="5823" y="3020" textLength="175" lengthAdjust="spacingAndGlyphs">设计负责人</text>
<text x="6260" y="2865" textLength="120" lengthAdjust="spacingAndGlyphs">设 计</text>
<text x="6260" y="2943" textLength="120" lengthAdjust="spacingAndGlyphs">制 图</text>
<text x="6260" y="3020" textLength="120" lengthAdjust="spacingAndGlyphs">校 对</text>
<text x="6941" y="2950" textLength="324" lengthAdjust="spacingAndGlyphs">规划横断面图（1/2）</text>
<text x="7340" y="2860" textLength="95" lengthAdjust="spacingAndGlyphs">业 号</text>
<text x="7340" y="2918" textLength="95" lengthAdjust="spacingAndGlyphs">图 号</text>
<text x="7340" y="2973" textLength="95" lengthAdjust="spacingAndGlyphs">图 别</text>
<text x="7504" y="2973" textLength="72" lengthAdjust="spacingAndGlyphs">路规</text>
<text x="7357" y="3030" textLength="108" lengthAdjust="spacingAndGlyphs">顺序号</text>
<text x="7500" y="3030" textLength="36" lengthAdjust="spacingAndGlyphs">05</text>
</g>
</g>
</svg>
</body></html>
